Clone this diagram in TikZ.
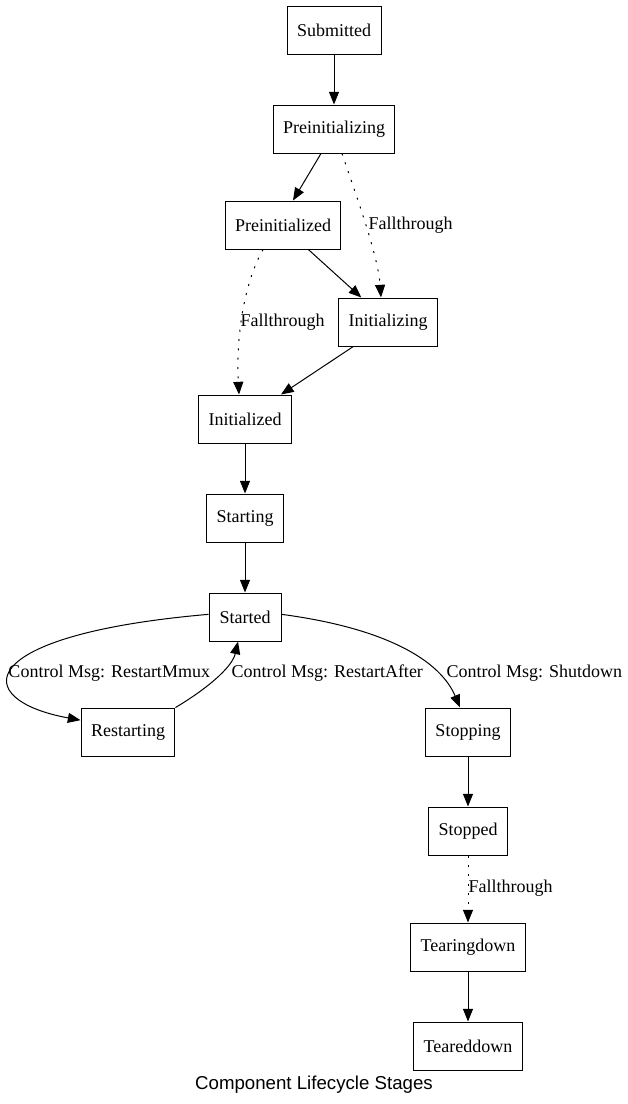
\documentclass[tikz,border=0pt]{standalone}
\usepackage{fontspec}
\setmainfont{Liberation Serif}
\newfontfamily\captionfont{Liberation Sans}
\usetikzlibrary{arrows.meta,positioning}

\begin{document}
\begin{tikzpicture}[
    x=0.75pt, y=-0.75pt,
    node distance=37.5pt,
    every node/.style={font=\fontsize{13.5}{16}\selectfont},
    stage/.style={draw, line width=0.75pt, minimum height=36pt, minimum width=54pt, inner xsep=7.5pt},
    edgelabel/.style={inner sep=0pt},
    flow/.style={-{Triangle[length=9.5pt, width=7.5pt]}, line width=0.75pt},
    fallthrough/.style={flow, dash pattern=on 1.5pt off 5.5pt}
]
\useasboundingbox (0,0) rectangle (628,1104);
\node[stage] (submitted) at (334,30) {Submitted};
\node[stage, below=of submitted] (preinitializing) {Preinitializing};
\node[stage] (preinitialized) at (283,225) {Preinitialized};
\node[stage] (initializing) at (388,322) {Initializing};
\node[stage] (initialized) at (245,419) {Initialized};
\node[stage, below=of initialized] (starting) {Starting};
\node[stage, below=of starting] (started) {Started};
\node[stage] (restarting) at (128,732) {Restarting};
\node[stage] (stopping) at (468,732) {Stopping};
\node[stage, below=of stopping] (stopped) {Stopped};
\node[stage] (tearingdown) at (468,947) {Tearingdown};
\node[stage, below=of tearingdown] (teareddown) {Teareddown};
\node[font=\captionfont\fontsize{14}{16}\selectfont] (caption) at (314,1085) {Component Lifecycle Stages};

\draw[flow] ([xshift=-9.75pt]preinitializing.south) -- ([xshift=7.5pt]preinitialized.north);
\draw[flow] (submitted) -- (preinitializing);
\draw[fallthrough] ([xshift=6pt]preinitializing.south) .. controls (356,195) and (378,255) .. ([xshift=-5.25pt]initializing.north)
    node[edgelabel, anchor=west] (fall1) at (368,225) {Fallthrough};
\draw[flow] ([xshift=19pt]preinitialized.south) -- ([xshift=-20pt]initializing.north);
\draw[fallthrough] ([xshift=-15pt]preinitialized.south) .. controls (243,285) and (236,340) .. ([xshift=-4.5pt]initialized.north)
    node[edgelabel, anchor=west] (fall2) at (240,322) {Fallthrough};
\draw[flow] ([xshift=-26pt]initializing.south) -- ([xshift=27pt]initialized.north);
\draw[flow] (initialized) -- (starting);
\draw[flow] (starting) -- (started);
\draw[flow] ([yshift=2pt]started.west) .. controls (-30,635) and (-30,700) .. (restarting.166)
    node[edgelabel, anchor=west] (restartmmux) at (8,673) {Control Msg: RestartMmux};
\draw[flow] (restarting.north east) .. controls (205,690) and (232,668) .. ([xshift=-5.25pt]started.south)
    node[edgelabel, anchor=west] (restartafter) at (231,673) {Control Msg: RestartAfter};
\draw[flow] ([yshift=2pt]started.east) .. controls (385,628) and (440,660) .. ([xshift=-6pt]stopping.north)
    node[edgelabel, anchor=west] (shutdown) at (446,673) {Control Msg: Shutdown};
\draw[flow] (stopping) -- (stopped);
\draw[fallthrough] (stopped) -- (tearingdown)
    node[edgelabel, anchor=west] (fall3) at (468,888) {Fallthrough};
\draw[flow] (tearingdown) -- (teareddown);
\end{tikzpicture}
\end{document}
